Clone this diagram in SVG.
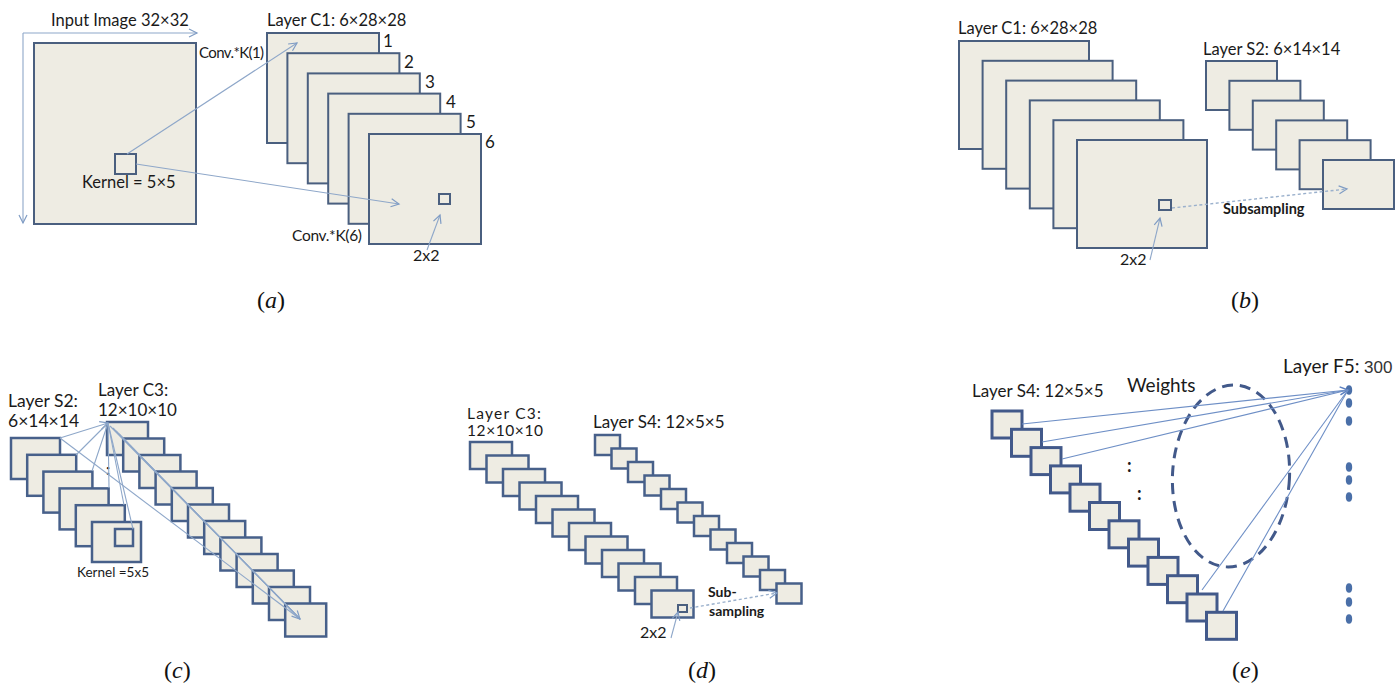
<svg xmlns="http://www.w3.org/2000/svg" width="1398" height="692" viewBox="0 0 1398 692">
<defs>
<style>
.fm{fill:#eeece3;stroke:#4a5f7f;stroke-width:2}
.fm2{fill:#eeece3;stroke:#47608a;stroke-width:2.5}
.fm3{fill:#eeece3;stroke:#42598a;stroke-width:3}
.t{font-family:Lato,"Open Sans","Liberation Sans",sans-serif;fill:#1a1a1a}
.b{font-weight:bold}
.cap{font-family:"Liberation Serif","DejaVu Serif",serif;font-size:24px;fill:#111}
.ln{stroke:#8ea7c9;stroke-width:1.1;fill:none}
.ln2{stroke:#6e8fc6;stroke-width:1.1;fill:none}
.dash{stroke:#9ab0cc;stroke-width:1.4;fill:none;stroke-dasharray:3 2.5}
.dot{fill:#4a6fa8}
</style>
<marker id="ah" markerUnits="userSpaceOnUse" markerWidth="12" markerHeight="12" refX="9" refY="5" orient="auto">
<path d="M1,1 L9,5 L1,9" fill="none" stroke="#7f9cc4" stroke-width="1.2"/>
</marker>
<marker id="ah2" markerUnits="userSpaceOnUse" markerWidth="12" markerHeight="12" refX="9" refY="5" orient="auto">
<path d="M1,1 L9,5 L1,9" fill="none" stroke="#5b7fc0" stroke-width="1.5"/>
</marker>
</defs>
<rect width="1398" height="692" fill="#ffffff"/>

<!-- Panel (a) -->
<g id="a-input">
<rect class="fm" x="34" y="43" width="162" height="181"/>
<rect class="fm" x="115" y="154" width="21" height="20"/>
<text class="t" x="51" y="26" font-size="16.5">Input Image 32×32</text>
<text class="t" x="82" y="188" font-size="16.5">Kernel = 5×5</text>
</g>
<g id="a-c1">
<rect class="fm" x="267" y="33" width="112" height="110"/>
<rect class="fm" x="287.4" y="53.2" width="112" height="110"/>
<rect class="fm" x="307.8" y="73.4" width="112" height="110"/>
<rect class="fm" x="328.2" y="93.6" width="112" height="110"/>
<rect class="fm" x="348.6" y="113.8" width="112" height="110"/>
<rect class="fm" x="369" y="134" width="112" height="110"/>
<rect class="fm" x="439" y="194" width="11" height="10"/>
<text class="t" x="267" y="26" font-size="16.5">Layer C1: 6×28×28</text>
<text class="t" x="383" y="47" font-size="17">1</text>
<text class="t" x="404" y="68" font-size="17">2</text>
<text class="t" x="425" y="88" font-size="17">3</text>
<text class="t" x="446" y="108" font-size="17">4</text>
<text class="t" x="466" y="128" font-size="17">5</text>
<text class="t" x="485" y="148" font-size="17">6</text>
<text class="t" x="199" y="58" font-size="15" textLength="65">Conv.*K(1)</text>
<text class="t" x="292" y="241" font-size="15.5" textLength="70">Conv.*K(6)</text>
<text class="t" x="413" y="261" font-size="16">2x2</text>
</g>

<!-- Panel (b) -->
<g id="b-c1">
<rect class="fm" x="959" y="41" width="130" height="108"/>
<rect class="fm" x="982.6" y="60.8" width="130" height="108"/>
<rect class="fm" x="1006.2" y="80.6" width="130" height="108"/>
<rect class="fm" x="1029.8" y="100.4" width="130" height="108"/>
<rect class="fm" x="1053.4" y="120.2" width="130" height="108"/>
<rect class="fm" x="1077" y="140" width="130" height="108"/>
<rect class="fm" x="1159" y="200" width="12" height="10"/>
<text class="t" x="958" y="34" font-size="16.5">Layer C1: 6×28×28</text>
<text class="t" x="1120" y="265" font-size="16">2x2</text>
</g>
<g id="b-s2">
<rect class="fm" x="1206" y="61" width="71" height="49"/>
<rect class="fm" x="1229.4" y="80.8" width="71" height="49"/>
<rect class="fm" x="1252.8" y="100.6" width="71" height="49"/>
<rect class="fm" x="1276.2" y="120.4" width="71" height="49"/>
<rect class="fm" x="1299.6" y="140.2" width="71" height="49"/>
<rect class="fm" x="1323" y="160" width="71" height="49"/>
<text class="t" x="1203" y="55" font-size="16.5">Layer S2: 6×14×14</text>
<text class="t b" x="1223" y="214" font-size="14.5">Subsampling</text>
</g>

<!-- Panel (c) -->
<g id="c-s2">
<rect class="fm2" x="11" y="438" width="49" height="41"/>
<rect class="fm2" x="27.2" y="454.8" width="49" height="41"/>
<rect class="fm2" x="43.4" y="471.6" width="49" height="41"/>
<rect class="fm2" x="59.6" y="488.4" width="49" height="41"/>
<rect class="fm2" x="75.8" y="505.2" width="49" height="41"/>
<rect class="fm2" x="92" y="522" width="49" height="40"/>
<rect class="fm2" x="115" y="529" width="18" height="17"/>
<text class="t" x="8" y="407" font-size="17.5">Layer S2:</text>
<text class="t" x="8" y="427" font-size="17.5">6×14×14</text>
<text class="t" x="77" y="577" font-size="13.5">Kernel =5x5</text>
</g>
<g id="c-c3">
<rect class="fm2" x="107" y="422" width="41" height="33"/>
<rect class="fm2" x="123.2" y="438.5" width="41" height="33"/>
<rect class="fm2" x="139.4" y="455" width="41" height="33"/>
<rect class="fm2" x="155.6" y="471.5" width="41" height="33"/>
<rect class="fm2" x="171.8" y="488" width="41" height="33"/>
<rect class="fm2" x="188" y="504.5" width="41" height="33"/>
<rect class="fm2" x="204.2" y="521" width="41" height="33"/>
<rect class="fm2" x="220.4" y="537.5" width="41" height="33"/>
<rect class="fm2" x="236.6" y="554" width="41" height="33"/>
<rect class="fm2" x="252.8" y="570.5" width="41" height="33"/>
<rect class="fm2" x="269" y="587" width="41" height="33"/>
<rect class="fm2" x="285.2" y="603.5" width="41" height="33"/>
<text class="t" x="98" y="396" font-size="17">Layer C3:</text>
<text class="t" x="98" y="416" font-size="17">12×10×10</text>
<text class="t b" x="106" y="475" font-size="16">:</text>
</g>

<!-- Panel (d) -->
<g id="d-c3">
<rect class="fm2" x="470" y="442" width="42" height="27"/>
<rect class="fm2" x="486.5" y="455.5" width="42" height="27"/>
<rect class="fm2" x="503" y="469" width="42" height="27"/>
<rect class="fm2" x="519.5" y="482.5" width="42" height="27"/>
<rect class="fm2" x="536" y="496" width="42" height="27"/>
<rect class="fm2" x="552.5" y="509.5" width="42" height="27"/>
<rect class="fm2" x="569" y="523" width="42" height="27"/>
<rect class="fm2" x="585.5" y="536.5" width="42" height="27"/>
<rect class="fm2" x="602" y="550" width="42" height="27"/>
<rect class="fm2" x="618.5" y="563.5" width="42" height="27"/>
<rect class="fm2" x="635" y="577" width="42" height="27"/>
<rect class="fm2" x="651.5" y="590.5" width="42" height="27"/>
<rect class="fm" x="678" y="605" width="9" height="7"/>
<text class="t" x="467" y="419" font-size="15.5" textLength="74">Layer C3:</text>
<text class="t" x="467" y="436" font-size="15.5" textLength="76">12×10×10</text>
<text class="t" x="640" y="638" font-size="16">2x2</text>
</g>
<g id="d-s4">
<rect class="fm2" x="595" y="435" width="25" height="20"/>
<rect class="fm2" x="611.5" y="448.5" width="25" height="20"/>
<rect class="fm2" x="628" y="462" width="25" height="20"/>
<rect class="fm2" x="644.5" y="475.5" width="25" height="20"/>
<rect class="fm2" x="661" y="489" width="25" height="20"/>
<rect class="fm2" x="677.5" y="502.5" width="25" height="20"/>
<rect class="fm2" x="694" y="516" width="25" height="20"/>
<rect class="fm2" x="710.5" y="529.5" width="25" height="20"/>
<rect class="fm2" x="727" y="543" width="25" height="20"/>
<rect class="fm2" x="743.5" y="556.5" width="25" height="20"/>
<rect class="fm2" x="760" y="570" width="25" height="20"/>
<rect class="fm2" x="776.5" y="583.5" width="25" height="20"/>
<text class="t" x="593" y="428" font-size="17">Layer S4: 12×5×5</text>
<text class="t b" x="708" y="597" font-size="14">Sub-</text>
<text class="t b" x="709" y="616" font-size="14">sampling</text>
</g>

<!-- Panel (e) -->
<g id="e-s4">
<rect class="fm3" x="992" y="411" width="30" height="27"/>
<rect class="fm3" x="1011.5" y="429.3" width="30" height="27"/>
<rect class="fm3" x="1031" y="447.6" width="30" height="27"/>
<rect class="fm3" x="1050.5" y="465.9" width="30" height="27"/>
<rect class="fm3" x="1070" y="484.2" width="30" height="27"/>
<rect class="fm3" x="1089.5" y="502.5" width="30" height="27"/>
<rect class="fm3" x="1109" y="520.8" width="30" height="27"/>
<rect class="fm3" x="1128.5" y="539.1" width="30" height="27"/>
<rect class="fm3" x="1148" y="557.4" width="30" height="27"/>
<rect class="fm3" x="1167.5" y="575.7" width="30" height="27"/>
<rect class="fm3" x="1187" y="594" width="30" height="27"/>
<rect class="fm3" x="1206.5" y="612.3" width="30" height="27"/>
<text class="t" x="972" y="397" font-size="17">Layer S4: 12×5×5</text>
<text class="t b" x="1127" y="472" font-size="18">:</text>
<text class="t b" x="1137" y="500" font-size="18">:</text>
</g>
<g id="e-weights">
<ellipse cx="1231" cy="476" rx="58.5" ry="91" transform="rotate(3 1231 476)" fill="none" stroke="#42598a" stroke-width="3" stroke-dasharray="11 7"/>
<text class="t" x="1127" y="392" font-size="19">Weights</text>
</g>
<g id="e-f5">
<ellipse class="dot" cx="1349" cy="390" rx="3.2" ry="4.8"/>
<ellipse class="dot" cx="1349" cy="403" rx="3.2" ry="4.8"/>
<ellipse class="dot" cx="1349" cy="421" rx="3.2" ry="4.8"/>
<ellipse class="dot" cx="1349" cy="467" rx="3.2" ry="4.8"/>
<ellipse class="dot" cx="1349" cy="480" rx="3.2" ry="4.8"/>
<ellipse class="dot" cx="1349" cy="497" rx="3.2" ry="4.8"/>
<ellipse class="dot" cx="1349" cy="588" rx="3.2" ry="4.8"/>
<ellipse class="dot" cx="1349" cy="602" rx="3.2" ry="4.8"/>
<ellipse class="dot" cx="1349" cy="619" rx="3.2" ry="4.8"/>
<text class="t" x="1283" y="373" font-size="19">Layer F5:</text>
<text x="1364" y="373" font-family="'Liberation Sans',sans-serif" font-size="17" fill="#333">300</text>
</g>

<!-- Connectors -->
<g id="connectors">
<!-- (a) -->
<line class="ln" x1="23" y1="33" x2="197" y2="33" marker-end="url(#ah)"/>
<line class="ln" x1="23" y1="33" x2="23" y2="223" marker-end="url(#ah)"/>
<line class="ln" x1="127" y1="154" x2="297" y2="43" marker-end="url(#ah)"/>
<line class="ln" x1="136" y1="164" x2="399" y2="204" marker-end="url(#ah)"/>
<line class="ln" x1="427" y1="250" x2="440" y2="215" marker-end="url(#ah)"/>
<!-- (b) -->
<line class="dash" x1="1172" y1="208" x2="1347" y2="189" marker-end="url(#ah)"/>
<line class="ln" x1="1150" y1="260" x2="1160" y2="218" marker-end="url(#ah)"/>
<!-- (c) -->
<line class="ln" x1="60" y1="438" x2="108" y2="423" marker-end="url(#ah)"/>
<line class="ln" x1="76" y1="455" x2="108" y2="423"/>
<line class="ln" x1="92" y1="471" x2="108" y2="423"/>
<line class="ln" x1="109" y1="488" x2="108" y2="423"/>
<line class="ln" x1="124" y1="505" x2="108" y2="423"/>
<line class="ln" x1="133" y1="529" x2="108" y2="423"/>
<line class="ln" x1="60" y1="438" x2="300" y2="619"/>
<line class="ln" x1="110" y1="426" x2="300" y2="619"/>
<line class="ln" x1="113" y1="428" x2="300" y2="619"/>
<line class="ln" x1="116" y1="431" x2="300" y2="619"/>
<line class="ln" x1="119" y1="434" x2="300" y2="619" marker-end="url(#ah)"/>
<!-- (d) -->
<line class="dash" x1="690" y1="608" x2="777" y2="593" marker-end="url(#ah)"/>
<line class="ln" x1="671" y1="638" x2="678" y2="612" marker-end="url(#ah)"/>
<!-- (e) -->
<line class="ln2" x1="1022" y1="424" x2="1348" y2="390" marker-end="url(#ah2)"/>
<line class="ln2" x1="1042" y1="442" x2="1348" y2="390"/>
<line class="ln2" x1="1062" y1="459" x2="1348" y2="390"/>
<line class="ln2" x1="1202" y1="590" x2="1348" y2="390"/>
<line class="ln2" x1="1223" y1="611" x2="1348" y2="390"/>
</g>

<!-- Captions -->
<g id="captions">
<text class="cap" x="257" y="308">(<tspan font-style="italic">a</tspan>)</text>
<text class="cap" x="1231" y="308">(<tspan font-style="italic">b</tspan>)</text>
<text class="cap" x="164" y="678">(<tspan font-style="italic">c</tspan>)</text>
<text class="cap" x="688" y="678">(<tspan font-style="italic">d</tspan>)</text>
<text class="cap" x="1232" y="678">(<tspan font-style="italic">e</tspan>)</text>
</g>
</svg>
